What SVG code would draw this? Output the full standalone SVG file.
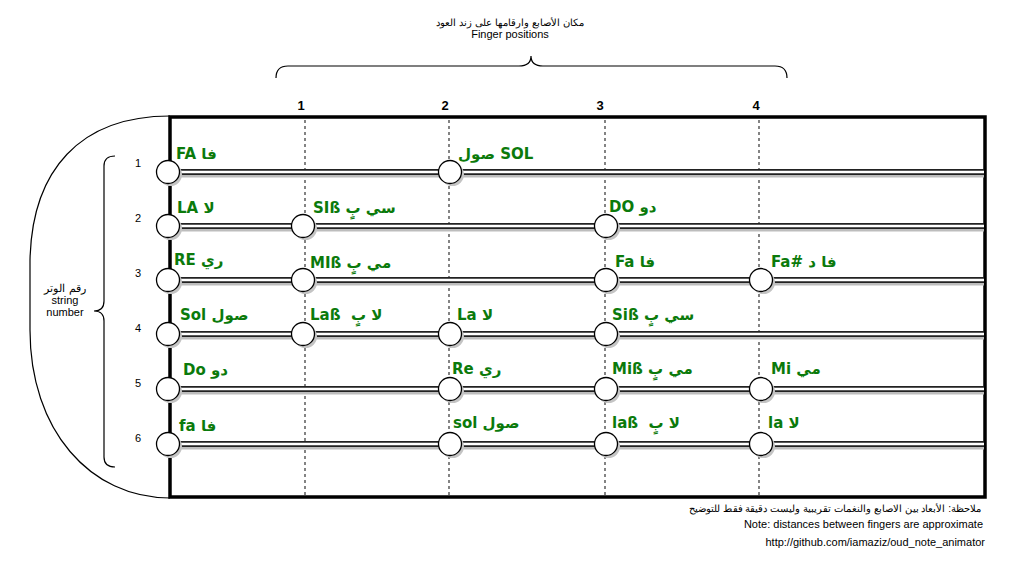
<svg xmlns="http://www.w3.org/2000/svg" width="1025" height="584" viewBox="0 0 1025 584">
<style>
.t{font-family:"Liberation Sans",Arial,sans-serif;fill:#000}
.title{font-size:11px;text-anchor:middle}
.fn{font-size:13px;font-weight:bold;text-anchor:middle}
.sn{font-size:11px;text-anchor:middle}
.note{font-size:11px;text-anchor:end}
.t.ar{font-size:10.2px}
.lbl{font-family:"DejaVu Sans","Noto Sans",sans-serif;font-size:15px;font-weight:bold;fill:#0b7a0b;white-space:pre}
.dash{stroke:#333;stroke-width:1.2;stroke-dasharray:3 3;fill:none}
.curve{fill:none;stroke:#000;stroke-width:1.2}
.sh{fill:none;stroke:#bdbdbd;stroke-width:6}
.so{fill:none;stroke:#222;stroke-width:6}
.si{fill:none;stroke:#fff;stroke-width:2.6}
.cs{fill:#c4c4c4}
.c{fill:#fff;stroke:#000;stroke-width:1.3}
</style>
<defs>
<g id="knob"><circle class="cs" cx="2.5" cy="2.5" r="11.5"/><circle class="c" cx="0" cy="0" r="11.5"/></g>
</defs>

<g id="header">
<text class="t title ar" x="510" y="26">مكان الأصابع وارقامها على زند العود</text>
<text class="t title" x="510" y="38">Finger positions</text>
<path class="curve" d="M276,78 Q276,66 288,66 L519,66 Q531,66 531,56 Q531,66 543,66 L775,66 Q787,66 787,78"/>
<text class="t fn" x="301" y="110">1</text>
<text class="t fn" x="445" y="110">2</text>
<text class="t fn" x="600" y="110">3</text>
<text class="t fn" x="756" y="110">4</text>
</g>

<g id="body">
<path class="curve" d="M170,116 C80,116 32,170 30,260 L30,330 C30,430 90,498 170,498"/>
<path class="curve" d="M115,156 Q104,156 104,166 L104,301 Q104,311 94,311 Q104,311 104,321 L104,457 Q104,467 115,467"/>
<text class="t sn" x="65" y="292">رقم الوتر</text>
<text class="t sn" x="65" y="304">string</text>
<text class="t sn" x="65" y="316">number</text>
<text class="t sn" x="138" y="167">1</text>
<text class="t sn" x="138" y="222">2</text>
<text class="t sn" x="138" y="277">3</text>
<text class="t sn" x="138" y="332">4</text>
<text class="t sn" x="138" y="387">5</text>
<text class="t sn" x="138" y="442">6</text>
</g>

<g id="neck">
<rect x="170" y="117" width="815" height="380" fill="#fff" stroke="#000" stroke-width="3.5"/>
<line class="dash" x1="305" y1="120" x2="305" y2="495"/>
<line class="dash" x1="449" y1="120" x2="449" y2="495"/>
<line class="dash" x1="605" y1="120" x2="605" y2="495"/>
<line class="dash" x1="759" y1="120" x2="759" y2="495"/>
</g>

<g id="connectors">
<g id="strings">
<line class="sh" x1="172" y1="174.5" x2="984" y2="174.5"/><line class="so" x1="172" y1="172" x2="984" y2="172"/><line class="si" x1="172" y1="172" x2="984" y2="172"/>
<line class="sh" x1="172" y1="228.5" x2="984" y2="228.5"/><line class="so" x1="172" y1="226" x2="984" y2="226"/><line class="si" x1="172" y1="226" x2="984" y2="226"/>
<line class="sh" x1="172" y1="282.5" x2="984" y2="282.5"/><line class="so" x1="172" y1="280" x2="984" y2="280"/><line class="si" x1="172" y1="280" x2="984" y2="280"/>
<line class="sh" x1="172" y1="336.5" x2="984" y2="336.5"/><line class="so" x1="172" y1="334" x2="984" y2="334"/><line class="si" x1="172" y1="334" x2="984" y2="334"/>
<line class="sh" x1="172" y1="391.5" x2="984" y2="391.5"/><line class="so" x1="172" y1="389" x2="984" y2="389"/><line class="si" x1="172" y1="389" x2="984" y2="389"/>
<line class="sh" x1="172" y1="446.5" x2="984" y2="446.5"/><line class="so" x1="172" y1="444" x2="984" y2="444"/><line class="si" x1="172" y1="444" x2="984" y2="444"/>
</g>
</g>

<g id="string1">
<use href="#knob" x="168" y="172"/><use href="#knob" x="450" y="172"/>
<text class="lbl" x="176" y="159">FA فا</text>
<text class="lbl" x="458" y="159">صول SOL</text>
</g>
<g id="string2">
<use href="#knob" x="168" y="226"/><use href="#knob" x="303" y="226"/><use href="#knob" x="606" y="226"/>
<text class="lbl" x="177" y="213">LA لا</text>
<text class="lbl" x="313" y="213">SIß سي بٍ</text>
<text class="lbl" x="609" y="212">DO دو</text>
</g>
<g id="string3">
<use href="#knob" x="168" y="280"/><use href="#knob" x="303" y="280"/><use href="#knob" x="606" y="280"/><use href="#knob" x="761" y="280"/>
<text class="lbl" x="174" y="265">RE ري</text>
<text class="lbl" x="310" y="268">MIß مي بٍ</text>
<text class="lbl" x="615" y="267">Fa فا</text>
<text class="lbl" x="771" y="267">Fa# فا د</text>
</g>
<g id="string4">
<use href="#knob" x="168" y="334"/><use href="#knob" x="303" y="334"/><use href="#knob" x="450" y="334"/><use href="#knob" x="606" y="334"/>
<text class="lbl" x="180" y="320">Sol صول</text>
<text class="lbl" x="310" y="320">Laß  لا بٍ</text>
<text class="lbl" x="457" y="320">La لا</text>
<text class="lbl" x="612" y="320">Siß سي بٍ</text>
</g>
<g id="string5">
<use href="#knob" x="168" y="389"/><use href="#knob" x="450" y="389"/><use href="#knob" x="606" y="389"/><use href="#knob" x="761" y="389"/>
<text class="lbl" x="183" y="375">Do دو</text>
<text class="lbl" x="452" y="374">Re ري</text>
<text class="lbl" x="612" y="374">Miß مي بٍ</text>
<text class="lbl" x="771" y="374">Mi مي</text>
</g>
<g id="string6">
<use href="#knob" x="168" y="444"/><use href="#knob" x="450" y="444"/><use href="#knob" x="606" y="444"/><use href="#knob" x="761" y="444"/>
<text class="lbl" x="179" y="431">fa فا</text>
<text class="lbl" x="453" y="428">sol صول</text>
<text class="lbl" x="612" y="428">laß  لا بٍ</text>
<text class="lbl" x="768" y="428">la لا</text>
</g>

<g id="notes">
<text class="t note ar" x="981" y="512">ملاحظة: الأبعاد بين الاصابع والنغمات تقريبية وليست دقيقة فقط للتوضيح</text>
<text class="t note" x="983" y="528">Note: distances between fingers are approximate</text>
<text class="t note" x="985" y="546">http://github.com/iamaziz/oud_note_animator</text>
</g>
</svg>
